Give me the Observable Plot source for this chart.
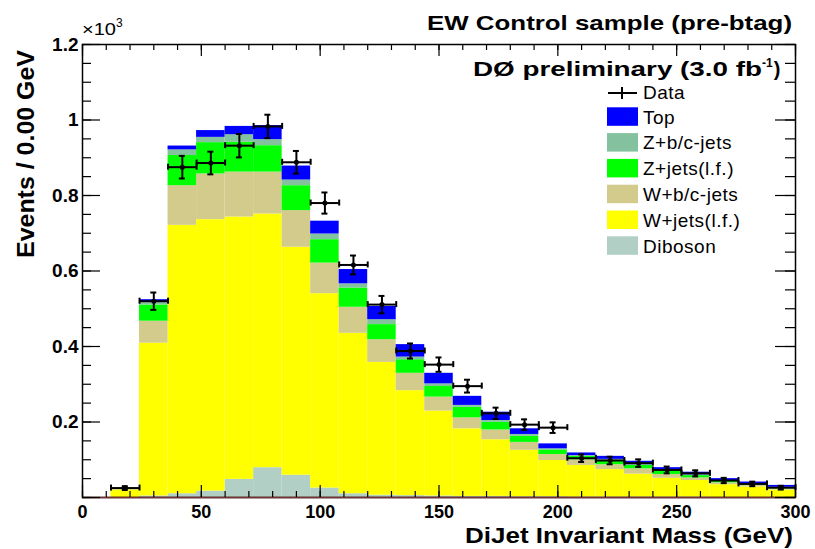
<!DOCTYPE html>
<html>
<head>
<meta charset="utf-8">
<script src="https://cdn.jsdelivr.net/npm/d3@7"></script>
<script src="https://cdn.jsdelivr.net/npm/@observablehq/plot@0.6"></script>
<style>
  html, body { margin: 0; padding: 0; background: #fff; }
  #chart { width: 815px; height: 549px; }
  svg { font-family: "Liberation Sans", Arial, Helvetica, sans-serif; }
</style>
</head>
<body>
<div id="chart"></div>
<script>
// ---- Data (values in units of 10^3 events per 12 GeV bin) ----
const binLow = [0, 12, 24, 36, 48, 60, 72, 84, 96, 108, 120, 132, 144, 156, 168, 180, 192, 204, 216, 228, 240, 252, 264, 276, 288];
const binWidth = 12;

const seriesNames  = ["Diboson", "W+jets(l.f.)", "W+b/c-jets", "Z+jets(l.f.)", "Z+b/c-jets", "Top"];
const seriesColors = ["#b2cfc6", "#ffff00", "#d3cb8b", "#00ff00", "#84c29f", "#0000ff"];

const diboson = [0, 0, 0.004, 0.010, 0.017, 0.048, 0.079, 0.059, 0.025, 0.010, 0.006, 0.005, 0.004, 0.003, 0.003, 0.002, 0.002, 0.001, 0.001, 0.001, 0.001, 0.001, 0, 0, 0];
const wjets   = [0, 0.020, 0.405, 0.711, 0.719, 0.695, 0.672, 0.604, 0.515, 0.425, 0.352, 0.278, 0.225, 0.179, 0.150, 0.123, 0.096, 0.084, 0.073, 0.061, 0.050, 0.044, 0.034, 0.028, 0.020];
const wbc     = [0, 0.001, 0.058, 0.105, 0.121, 0.119, 0.111, 0.097, 0.081, 0.069, 0.060, 0.046, 0.037, 0.029, 0.026, 0.021, 0.016, 0.015, 0.013, 0.014, 0.010, 0.007, 0.005, 0.004, 0.003];
const zjets   = [0, 0.001, 0.043, 0.080, 0.083, 0.079, 0.070, 0.066, 0.062, 0.051, 0.040, 0.036, 0.028, 0.028, 0.020, 0.016, 0.012, 0.009, 0.011, 0.009, 0.009, 0.006, 0.005, 0.003, 0.003];
const zbc     = [0, 0, 0.007, 0.015, 0.014, 0.020, 0.016, 0.015, 0.015, 0.011, 0.013, 0.007, 0.007, 0.005, 0.005, 0.005, 0.003, 0.002, 0.003, 0.002, 0.002, 0.002, 0.001, 0.001, 0.001];
const topq    = [0, 0.001, 0.007, 0.010, 0.018, 0.022, 0.037, 0.037, 0.034, 0.038, 0.035, 0.033, 0.028, 0.024, 0.022, 0.015, 0.013, 0.007, 0.008, 0.009, 0.007, 0.007, 0.005, 0.005, 0.005];
const seriesValues = [diboson, wjets, wbc, zjets, zbc, topq];

const dataVals = [null, 0.025, 0.520, 0.875, 0.886, 0.932, 0.983, 0.888, 0.780, 0.616, 0.511, 0.388, 0.352, 0.295, 0.223, 0.193, 0.185, 0.104, 0.098, 0.091, 0.073, 0.064, 0.045, 0.036, 0.026];
const dataErr  = [null, 0.005, 0.023, 0.030, 0.030, 0.031, 0.031, 0.030, 0.028, 0.025, 0.023, 0.020, 0.019, 0.017, 0.015, 0.014, 0.014, 0.010, 0.010, 0.010, 0.009, 0.008, 0.007, 0.006, 0.005];

const xTickLabels = [0, 50, 100, 150, 200, 250, 300];
const yTickLabels = [0.2, 0.4, 0.6, 0.8, 1, 1.2];
const yMajorTicks = [0, 0.2, 0.4, 0.6, 0.8, 1, 1.2];
const xMinorTicks = d3.range(0, 301, 10);
const yMinorTicks = d3.range(0, 1.2001, 0.05);

const legendOrder = ["Top", "Z+b/c-jets", "Z+jets(l.f.)", "W+b/c-jets", "W+jets(l.f.)", "Diboson"];

// ---- Tables built from the arrays ----
const table = [];
seriesNames.forEach((name, s) => {
  seriesValues[s].forEach((v, i) => {
    table.push({series: name, x1: binLow[i], x2: binLow[i] + binWidth, value: v});
  });
});
const points = binLow.map((lo, i) => ({
  x1: lo, x2: lo + binWidth, xc: lo + binWidth / 2, y: dataVals[i], err: dataErr[i]
})).filter(d => d.y != null);

// ---- Layout ----
const W = 815, H = 549, mL = 82, mR = 20, mT = 44, mB = 52;
const fw = W - mL - mR, fh = H - mT - mB;

const plot = Plot.plot({
  width: W, height: H,
  marginLeft: mL, marginRight: mR, marginTop: mT, marginBottom: mB,
  x: {domain: [0, 300]},
  y: {domain: [0, 1.2]},
  color: {domain: seriesNames, range: seriesColors},
  style: {fontFamily: "Liberation Sans, Arial, Helvetica, sans-serif", background: "white", overflow: "visible"},
  marks: [
    Plot.rectY(table, {x1: "x1", x2: "x2", y: "value", fill: "series", order: seriesNames}),
    // data: horizontal bin-width bars, vertical error bars, caps and dot
    Plot.ruleY(points, {y: "y", x1: "x1", x2: "x2", stroke: "black", strokeWidth: 2}),
    Plot.ruleX(points, {x: "x1", y1: "y", y2: "y", insetTop: -3, insetBottom: -3, stroke: "black", strokeWidth: 2}),
    Plot.ruleX(points, {x: "x2", y1: "y", y2: "y", insetTop: -3, insetBottom: -3, stroke: "black", strokeWidth: 2}),
    Plot.ruleX(points, {x: "xc", y1: d => d.y - d.err, y2: d => d.y + d.err, stroke: "black", strokeWidth: 2}),
    Plot.ruleY(points, {y: d => d.y + d.err, x1: "xc", x2: "xc", insetLeft: -3, insetRight: -3, stroke: "black", strokeWidth: 2}),
    Plot.ruleY(points, {y: d => d.y - d.err, x1: "xc", x2: "xc", insetLeft: -3, insetRight: -3, stroke: "black", strokeWidth: 2}),
    Plot.dot(points, {x: "xc", y: "y", r: 2.5, fill: "black"}),
    // frame and inward ticks (ROOT style, all four sides)
    Plot.frame({stroke: "black", strokeWidth: 1.5}),
    Plot.ruleY([0], {stroke: "#7a3030", strokeWidth: 1.5}),
    Plot.tickX(xMinorTicks, {x: d => d, insetTop: fh - 6, stroke: "black", strokeWidth: 1.2}),
    Plot.tickX(xTickLabels, {x: d => d, insetTop: fh - 12, stroke: "black", strokeWidth: 1.2}),
    Plot.tickX(xMinorTicks, {x: d => d, insetBottom: fh - 6, stroke: "black", strokeWidth: 1.2}),
    Plot.tickX(xTickLabels, {x: d => d, insetBottom: fh - 12, stroke: "black", strokeWidth: 1.2}),
    Plot.tickY(yMinorTicks, {y: d => d, insetRight: fw - 9, stroke: "black", strokeWidth: 1.2}),
    Plot.tickY(yMajorTicks, {y: d => d, insetRight: fw - 18, stroke: "black", strokeWidth: 1.2}),
    Plot.tickY(yMinorTicks, {y: d => d, insetLeft: fw - 10, stroke: "black", strokeWidth: 1.2}),
    Plot.tickY(yMajorTicks, {y: d => d, insetLeft: fw - 20, stroke: "black", strokeWidth: 1.2}),
    Plot.axisX(xTickLabels, {tickSize: 0, tickPadding: 8, fontSize: 18, fontWeight: "bold", label: null, tickFormat: d => String(d)}),
    Plot.axisY(yTickLabels, {tickSize: 0, tickPadding: 4, fontSize: 19, fontWeight: "bold", label: null, tickFormat: d => String(d)})
  ]
});
document.getElementById("chart").appendChild(plot);

// ---- Annotations (titles, axis titles, legend) ----
const svg = d3.select(plot);
const ann = svg.append("g")
  .attr("font-family", "Liberation Sans, Arial, Helvetica, sans-serif")
  .attr("text-anchor", "start")
  .attr("fill", "black");

ann.append("text").attr("x", 427).attr("y", 30).attr("font-size", 21).attr("font-weight", "bold")
  .attr("textLength", 365).attr("lengthAdjust", "spacingAndGlyphs").text("EW Control sample (pre-btag)");

const dz = ann.append("text").attr("x", 473).attr("y", 76).attr("font-size", 20).attr("font-weight", "bold");
dz.append("tspan").attr("textLength", 289).attr("lengthAdjust", "spacingAndGlyphs").text("DØ preliminary (3.0 fb");
dz.append("tspan").attr("font-size", 12).attr("dy", -9).text("-1");
dz.append("tspan").attr("dy", 9).attr("dx", 1).text(")");

const ex = ann.append("text").attr("x", 82).attr("y", 35).attr("font-size", 17);
ex.append("tspan").attr("textLength", 34).attr("lengthAdjust", "spacingAndGlyphs").text("×10");
ex.append("tspan").attr("font-size", 12).attr("dy", -8).text("3");

ann.append("text").attr("transform", "translate(33.5,258) rotate(-90)").attr("font-size", 23).attr("font-weight", "bold")
  .attr("textLength", 208).attr("lengthAdjust", "spacingAndGlyphs").text("Events / 0.00 GeV");

ann.append("text").attr("x", 465).attr("y", 543).attr("font-size", 22).attr("font-weight", "bold")
  .attr("textLength", 328).attr("lengthAdjust", "spacingAndGlyphs").text("DiJet Invariant Mass (GeV)");

// legend
const lg = ann.append("g").attr("font-size", 19).attr("letter-spacing", 0.5);
lg.append("line").attr("x1", 608).attr("x2", 637).attr("y1", 93).attr("y2", 93).attr("stroke", "black").attr("stroke-width", 2);
lg.append("line").attr("x1", 622).attr("x2", 622).attr("y1", 87).attr("y2", 99).attr("stroke", "black").attr("stroke-width", 2);
lg.append("text").attr("x", 643).attr("y", 99).text("Data");
const colorOf = Object.fromEntries(seriesNames.map((n, i) => [n, seriesColors[i]]));
legendOrder.forEach((name, k) => {
  lg.append("rect").attr("x", 607).attr("y", 107.3 + k * 25.8).attr("width", 31).attr("height", 18.5).attr("fill", colorOf[name]);
  lg.append("text").attr("x", 643).attr("y", 123.5 + k * 25.8).text(name);
});
</script>
</body>
</html>
